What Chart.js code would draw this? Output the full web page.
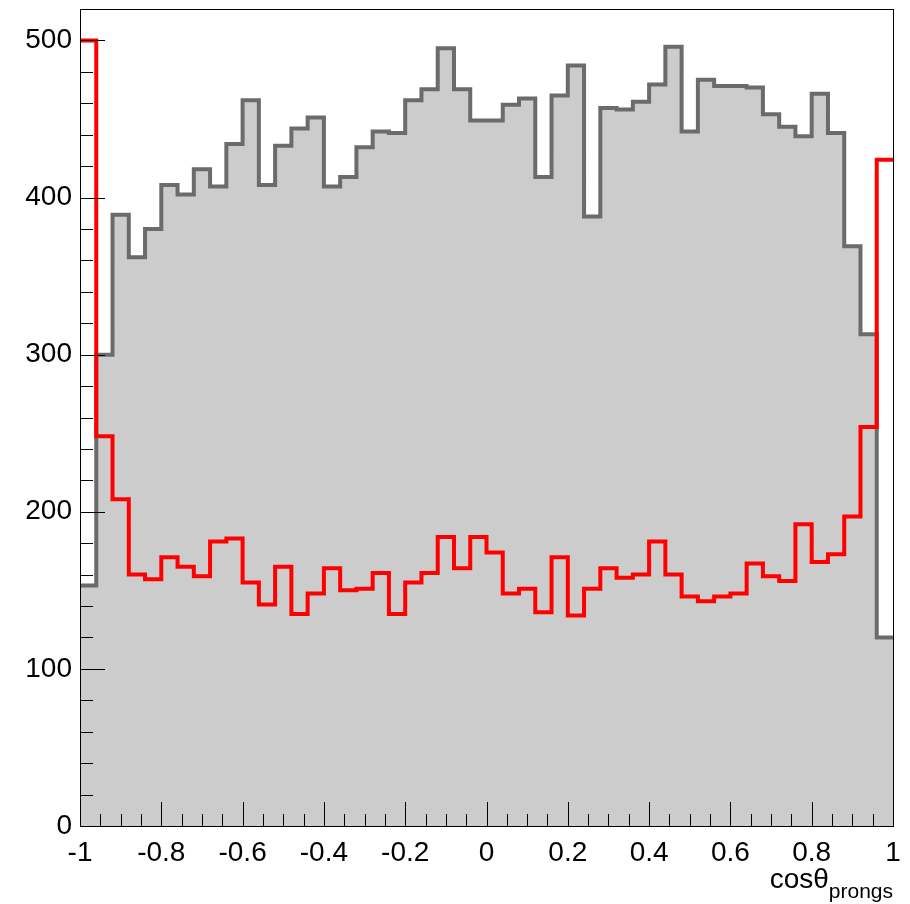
<!DOCTYPE html>
<html>
<head>
<meta charset="utf-8">
<script src="https://cdn.jsdelivr.net/npm/chart.js@4"></script>
<style>
  body { margin: 0; background: #fff; }
</style>
</head>
<body>
<canvas id="histChart" width="910" height="904"></canvas>
<script>
// histogram binning: 50 bins on [-1, 1]
const xMin = -1;
const xMax = 1;
const nBins = 50;

// grey (filled) histogram, bin contents left to right
const greyCounts = [
  153, 300, 389, 362, 380, 408, 402, 418, 407, 434,
  462, 408, 433, 444, 451, 407, 413, 432, 442, 441,
  462, 469, 495, 469, 449, 449, 459, 463, 413, 465,
  484, 388, 457, 456, 461, 472, 496, 442, 475, 471,
  471, 470, 453, 445, 439, 466, 441, 369, 313, 120
];

// red histogram
const redCounts = [
  500, 248, 208, 160, 157, 171, 165, 159, 181, 183,
  155, 141, 165, 135, 148, 164, 150, 151, 161, 135,
  155, 161, 184, 164, 184, 174, 148, 151, 136, 171,
  134, 151, 164, 158, 160, 181, 160, 146, 143, 146,
  148, 167, 159, 156, 192, 168, 173, 197, 254, 424
];

const xTicks = [-1, -0.8, -0.6, -0.4, -0.2, 0, 0.2, 0.4, 0.6, 0.8, 1];
const yTicks = [0, 100, 200, 300, 400, 500];
const yMax = 520;

const binWidth = (xMax - xMin) / nBins;

// left edge of each bin plus a closing point at xMax, drawn as steps
function toSteps(counts) {
  const pts = counts.map((v, i) => ({ x: xMin + i * binWidth, y: v }));
  pts.push({ x: xMax, y: counts[counts.length - 1] });
  return pts;
}

const font = "'Liberation Sans', Arial, sans-serif";

// ROOT-like frame with inward ticks and the x axis title
const rootFrame = {
  id: "rootFrame",
  afterDatasetsDraw(chart) {
    const { ctx, chartArea: a, scales: { x, y } } = chart;
    ctx.save();
    ctx.strokeStyle = "#000";
    ctx.lineWidth = 1;
    ctx.beginPath();
    // x ticks every 0.05, long every 0.2
    for (let k = 0; k <= 40; k++) {
      const v = xMin + k * 0.05;
      const px = Math.round(x.getPixelForValue(v)) + 0.5;
      const len = k % 4 === 0 ? 24 : 12;
      ctx.moveTo(px, a.bottom);
      ctx.lineTo(px, a.bottom - len);
    }
    // y ticks every 20, long every 100
    for (let k = 0; k <= yMax / 20; k++) {
      const v = k * 20;
      const py = Math.round(y.getPixelForValue(v)) + 0.5;
      const len = k % 5 === 0 ? 25 : 13;
      ctx.moveTo(a.left, py);
      ctx.lineTo(a.left + len, py);
    }
    ctx.stroke();
    ctx.strokeRect(Math.round(a.left) + 0.5, Math.round(a.top) + 0.5,
                   Math.round(a.width), Math.round(a.height));
    ctx.restore();
  },
  afterDraw(chart) {
    const { ctx, chartArea: a } = chart;
    ctx.save();
    ctx.fillStyle = "#000";
    ctx.textAlign = "right";
    ctx.textBaseline = "alphabetic";
    ctx.font = "21px " + font;
    const sub = "prongs";
    const subW = ctx.measureText(sub).width;
    ctx.fillText(sub, a.right, 898);
    ctx.font = "28px " + font;
    ctx.fillText("cosθ", a.right - subW, 888);
    ctx.restore();
  }
};

new Chart(document.getElementById("histChart"), {
  type: "line",
  data: {
    datasets: [
      {
        label: "red",
        data: toSteps(redCounts),
        stepped: true,
        borderColor: "#ff0000",
        borderWidth: 4,
        pointRadius: 0,
        fill: false,
        borderJoinStyle: "miter"
      },
      {
        label: "grey",
        data: toSteps(greyCounts),
        stepped: true,
        borderColor: "#6b6b6b",
        backgroundColor: "#cccccc",
        borderWidth: 4,
        pointRadius: 0,
        fill: "origin",
        borderJoinStyle: "miter"
      }
    ]
  },
  options: {
    responsive: false,
    animation: false,
    layout: { padding: { top: 9, right: 17, left: 0, bottom: 0 } },
    plugins: {
      legend: { display: false },
      tooltip: { enabled: false }
    },
    scales: {
      x: {
        type: "linear",
        min: xMin,
        max: xMax,
        grid: { display: false, drawTicks: false },
        border: { display: false },
        afterBuildTicks: s => { s.ticks = xTicks.map(v => ({ value: v })); },
        afterFit: s => {
          s.height = 78;
          s.paddingLeft = 0;
          s.paddingRight = 0;
        },
        ticks: {
          autoSkip: false,
          maxRotation: 0,
          padding: 10,
          color: "#000",
          font: { family: font, size: 28 },
          callback: v => String(v)
        }
      },
      y: {
        min: 0,
        max: yMax,
        grid: { display: false, drawTicks: false },
        border: { display: false },
        afterBuildTicks: s => { s.ticks = yTicks.map(v => ({ value: v })); },
        afterFit: s => {
          s.width = 80;
          s.paddingTop = 0;
          s.paddingBottom = 0;
        },
        ticks: {
          padding: 8,
          color: "#000",
          font: { family: font, size: 28 }
        }
      }
    }
  },
  plugins: [rootFrame]
});
</script>
</body>
</html>
